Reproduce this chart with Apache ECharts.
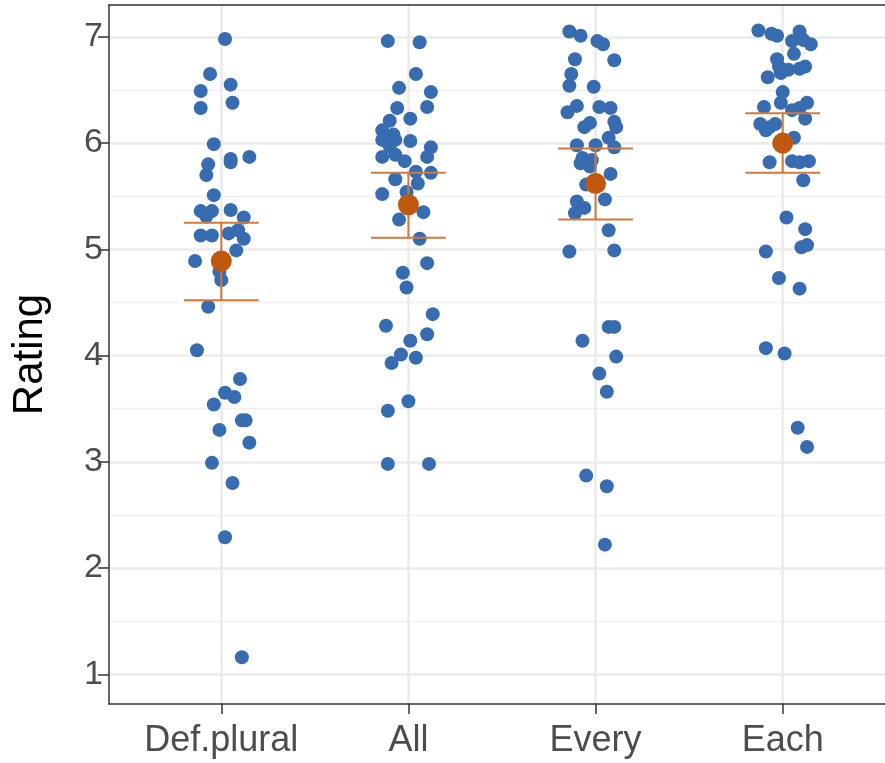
<!DOCTYPE html>
<html>
<head>
<meta charset="utf-8">
<script src="https://cdn.jsdelivr.net/npm/echarts@6/dist/echarts.min.js"></script>
<style>
  html, body { margin: 0; padding: 0; background: #fff; }
  #chart { width: 885px; height: 763px; }
</style>
</head>
<body>
<div id="chart"></div>
<script>
const categories = ['Def.plural', 'All', 'Every', 'Each']
const yTicks = [1, 2, 3, 4, 5, 6, 7]
const yMinorTicks = [1.5, 2.5, 3.5, 4.5, 5.5, 6.5]

// [jitter offset from the category, rating]
const defPluralPts = [
  [0.02, 6.98], [-0.06, 6.65], [0.05, 6.55], [-0.11, 6.49], [0.06, 6.38], [-0.11, 6.33],
  [-0.04, 5.99], [0.05, 5.85], [0.15, 5.87], [0.05, 5.82], [-0.07, 5.80], [-0.08, 5.70],
  [-0.04, 5.51], [-0.11, 5.36], [-0.05, 5.36], [0.05, 5.37], [-0.08, 5.31], [0.12, 5.30],
  [-0.11, 5.13], [-0.05, 5.13], [0.04, 5.15], [0.09, 5.18], [0.12, 5.10], [0.08, 4.99],
  [-0.14, 4.89], [-0.01, 4.79], [0.00, 4.71], [-0.07, 4.46], [-0.13, 4.05], [0.10, 3.78],
  [0.02, 3.65], [0.07, 3.61], [-0.04, 3.54], [0.11, 3.39], [0.13, 3.39], [-0.01, 3.30],
  [0.15, 3.18], [-0.05, 2.99], [0.06, 2.80], [0.02, 2.29], [0.11, 1.16]
]
const allPts = [
  [-0.11, 6.96], [0.06, 6.95], [0.04, 6.65], [-0.05, 6.52], [0.12, 6.48], [0.10, 6.34],
  [-0.06, 6.33], [0.01, 6.23], [-0.10, 6.21], [-0.14, 6.12], [-0.08, 6.08], [-0.14, 6.03],
  [-0.07, 6.03], [0.01, 6.02], [0.12, 5.96], [-0.10, 5.97], [-0.14, 5.87], [-0.07, 5.89],
  [0.10, 5.87], [-0.02, 5.83], [0.04, 5.73], [0.12, 5.72], [-0.07, 5.66], [0.05, 5.62],
  [-0.01, 5.54], [-0.14, 5.52], [0.08, 5.35], [-0.05, 5.28], [0.06, 5.10], [0.10, 4.87],
  [-0.03, 4.78], [-0.01, 4.64], [0.13, 4.39], [-0.12, 4.28], [0.10, 4.20], [0.01, 4.14],
  [-0.04, 4.01], [0.04, 3.98], [-0.09, 3.93], [0.00, 3.57], [-0.11, 3.48], [-0.11, 2.98],
  [0.11, 2.98]
]
const everyPts = [
  [-0.14, 7.05], [-0.08, 7.01], [0.01, 6.96], [0.04, 6.93], [-0.11, 6.79], [0.10, 6.78],
  [-0.13, 6.65], [-0.14, 6.54], [-0.01, 6.53], [-0.15, 6.29], [-0.10, 6.35], [0.02, 6.34],
  [0.08, 6.33], [0.10, 6.20], [-0.03, 6.19], [-0.06, 6.15], [0.11, 6.15], [0.07, 6.05],
  [-0.10, 5.98], [0.00, 5.98], [0.10, 5.96], [-0.07, 5.86], [-0.02, 5.84], [-0.08, 5.81],
  [-0.03, 5.78], [0.08, 5.71], [-0.05, 5.61], [0.05, 5.47], [-0.10, 5.45], [-0.06, 5.39],
  [-0.11, 5.34], [0.07, 5.18], [-0.14, 4.98], [0.10, 4.99], [0.07, 4.27], [0.10, 4.27],
  [-0.07, 4.14], [0.11, 3.99], [0.02, 3.83], [0.06, 3.66], [-0.05, 2.87], [0.06, 2.77],
  [0.05, 2.22]
]
const eachPts = [
  [-0.13, 7.06], [-0.06, 7.03], [-0.03, 7.01], [0.09, 7.05], [0.05, 6.96], [0.11, 6.97],
  [0.15, 6.93], [0.06, 6.84], [-0.03, 6.79], [-0.02, 6.72], [0.03, 6.69], [0.09, 6.70],
  [0.12, 6.72], [-0.01, 6.66], [-0.08, 6.62], [0.00, 6.48], [-0.01, 6.38], [0.13, 6.38],
  [-0.10, 6.34], [0.09, 6.33], [0.05, 6.31], [0.12, 6.23], [-0.12, 6.18], [-0.07, 6.15],
  [-0.04, 6.18], [-0.09, 6.12], [0.06, 6.05], [-0.07, 5.82], [0.05, 5.83], [0.09, 5.82],
  [0.14, 5.83], [0.11, 5.65], [0.02, 5.30], [0.12, 5.19], [0.13, 5.04], [0.10, 5.02],
  [-0.09, 4.98], [-0.02, 4.73], [0.09, 4.63], [-0.09, 4.07], [0.01, 4.02], [0.08, 3.32],
  [0.13, 3.14]
]
const meanRating = [4.89, 5.42, 5.62, 6.00]
const ciLow = [4.52, 5.11, 5.28, 5.72]
const ciHigh = [5.25, 5.72, 5.95, 6.28]

const font = '"Liberation Sans", Arial, Helvetica, sans-serif'
const capHalf = 0.2
const borderStyle = { color: '#333333', width: 1.5 }

const groups = [defPluralPts, allPts, everyPts, eachPts]
const pointData = []
groups.forEach((pts, i) => {
  pts.forEach(p => pointData.push([i + 1 + p[0], p[1]]))
})
const meanData = meanRating.map((m, i) => [i + 1, m])
const errData = meanRating.map((m, i) => [i + 1, ciLow[i], ciHigh[i]])
const catPos = categories.map((c, i) => i + 1)

const chart = echarts.init(document.getElementById('chart'), null, { renderer: 'canvas' })
const option = {
  backgroundColor: '#fff',
  animation: false,
  grid: {
    show: false,
    left: 109,
    top: 5,
    width: 786,
    height: 699,
    outerBoundsMode: 'none',
    containLabel: false
  },
  xAxis: [
    {
      type: 'value',
      min: 0.4,
      max: 4.6,
      axisLine: { show: true, onZero: false, lineStyle: borderStyle },
      splitLine: { show: false },
      axisTick: {
        show: true,
        customValues: catPos,
        length: 10,
        lineStyle: borderStyle
      },
      axisLabel: {
        customValues: catPos,
        formatter: v => categories[Math.round(v) - 1] || '',
        color: '#4D4D4D',
        fontFamily: font,
        fontSize: 36,
        margin: 19
      }
    },
    {
      // top edge of the panel
      type: 'value',
      position: 'top',
      min: 0.4,
      max: 4.6,
      axisLine: { show: true, onZero: false, lineStyle: borderStyle },
      axisTick: { show: false },
      axisLabel: { show: false },
      splitLine: { show: false }
    }
  ],
  yAxis: {
    type: 'value',
    min: 0.72,
    max: 7.3,
    name: 'Rating',
    nameLocation: 'middle',
    nameGap: 58,
    nameRotate: 90,
    nameTextStyle: { color: '#000', fontFamily: font, fontSize: 42 },
    axisLine: { show: true, onZero: false, lineStyle: borderStyle },
    splitLine: { show: false },
    axisTick: {
      show: true,
      customValues: yTicks,
      length: 11,
      lineStyle: borderStyle
    },
    axisLabel: {
      customValues: yTicks,
      color: '#4D4D4D',
      fontFamily: font,
      fontSize: 34,
      margin: 6
    }
  },
  series: [
    {
      name: 'grid',
      type: 'scatter',
      data: [],
      z: 0,
      silent: true,
      markLine: {
        silent: true,
        z: 0,
        symbol: 'none',
        label: { show: false },
        animation: false,
        data: [
          ...yMinorTicks.map(v => ({ yAxis: v, lineStyle: { color: '#EFEFEF', width: 1.4, type: 'solid' } })),
          ...yTicks.map(v => ({ yAxis: v, lineStyle: { color: '#EBEBEB', width: 2.6, type: 'solid' } })),
          ...catPos.map(v => ({ xAxis: v, lineStyle: { color: '#EBEBEB', width: 2.6, type: 'solid' } }))
        ]
      }
    },
    {
      name: 'ratings',
      type: 'scatter',
      data: pointData,
      symbolSize: 14,
      z: 2,
      itemStyle: { color: '#386CB0', opacity: 1 }
    },
    {
      name: 'ci',
      type: 'custom',
      z: 3,
      data: errData,
      encode: { x: 0, y: [1, 2] },
      renderItem(params, api) {
        const x = api.value(0)
        const lo = api.value(1)
        const hi = api.value(2)
        const pTop = api.coord([x, hi])
        const pBot = api.coord([x, lo])
        const tl = api.coord([x - capHalf, hi])
        const tr = api.coord([x + capHalf, hi])
        const bl = api.coord([x - capHalf, lo])
        const br = api.coord([x + capHalf, lo])
        const st = () => ({ stroke: '#D4793A', lineWidth: 2, fill: null })
        return {
          type: 'group',
          children: [
            { type: 'polyline', shape: { points: [pTop, pBot] }, style: st() },
            { type: 'polyline', shape: { points: [tl, tr] }, style: st() },
            { type: 'polyline', shape: { points: [bl, br] }, style: st() }
          ]
        }
      }
    },
    {
      name: 'mean',
      type: 'scatter',
      data: meanData,
      symbolSize: 21,
      z: 4,
      itemStyle: { color: '#C0580F', opacity: 1 }
    }
  ]
}
chart.setOption(option)
window.onresize = function() {
  chart.resize()
}
</script>
</body>
</html>
